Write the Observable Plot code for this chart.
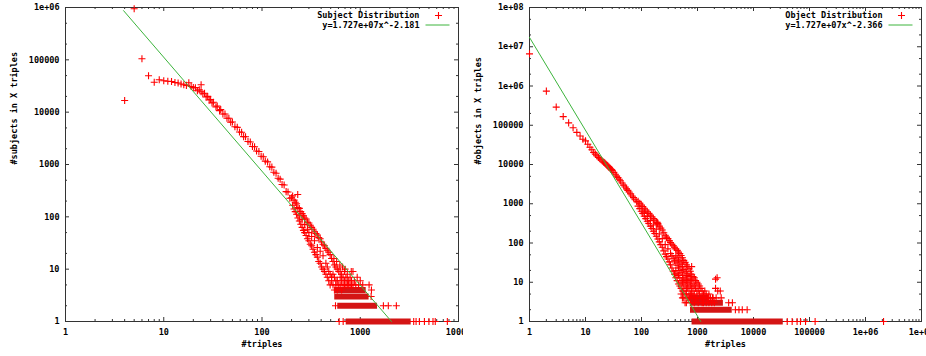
<!DOCTYPE html>
<html><head><meta charset="utf-8">
<script src="https://cdn.jsdelivr.net/npm/d3@7"></script>
<script src="https://cdn.jsdelivr.net/npm/@observablehq/plot@0.6"></script>
<style>
html,body{margin:0;padding:0;background:#fff;}
#wrap{display:flex;width:926px;height:356px;overflow:hidden;background:#fff;}
#wrap svg{flex:none;}
</style></head><body><div id="wrap"></div>
<script>
// ---------- Subject distribution (left) ----------
const subjectPoints = [
 [4,16700],[5,945000],[6,105000],[7,49600],[8,37400],[9,41600],[10,39800],[11,39000],[12,38500],[13,37000],[14,36000],[15,34500],[16,33500],[17,32500],[18,36500],[19,31000],[20,29500],
 [21,29400],[22,25600],[23,26800],[24,33400],[24,24500],[25,22500],[26,23000],[27,19500],[28,20000],[29,17100],[30,17500],[31,15000],[32,15500],[34,12600],[35,13100],[37,10700],[38,11200],[40,9250],[42,9200],[44,7650],[46,7650],[48,6430],[50,6490],[53,5250],[56,5130],[59,4180],[62,4140],[65,3410],[68,3400],[72,2750],[76,2690],[80,2210],[84,2180],[88,1810],[93,1770],[98,1440],[103,1410],[108,1160],[114,1120],[120,908],[126,891],[132,713],[139,682],[146,546],[153,525],[160,414],[168,406],[176,303],[184,299],[192,227],[200,232],[231,267],
 [205,251],[205,166],[212,209],[212,141],[218,190],[218,126],[225,178],[225,112],[232,151],[232,95],[240,145],[240,83],[240,105],[248,126],[248,72],[256,115],[256,63],[256,89],[264,105],[264,55],[272,95],[272,50],[272,71],[281,91],[281,44],[290,79],[290,38],[290,58],[300,76],[300,35],[300,50],[310,69],[310,30],[320,63],[320,28],[320,42],[331,58],[331,24],[342,52],[342,21],[342,35],[354,48],[354,19],[366,45],[366,17],[366,26],[378,40],[378,14],[391,38],[391,13],[391,22],[404,33],[404,11],[418,30],[418,10],[418,18],[432,28],[432,9],[447,25],[447,13],[447,8],[462,23],[462,7],[462,11],[478,21],[478,9],[478,6],[494,19],[494,8],[494,5],[511,16],[511,7],[511,6],[528,14],[528,8],[528,5],[540,16],[546,12],[546,7],[546,4],[565,11],[565,6],[565,5],[575,14],[584,10],[584,6],[584,4],[604,9],[604,5],[620,12],[625,9],[625,7],[625,5],[646,8],[646,6],[646,4],[660,11],[668,7],[668,5],[690,9],[690,6],[690,5],[700,10],[714,7],[714,5],[738,8],[738,6],[738,5],[763,6],[763,5],[789,7],[789,5],[810,9],[815,6],[815,5],[843,9],[843,5],[871,6],[900,5],[931,7],[962,5],[1000,6],[1060,5],[1230,5],
 [610,1],[670,1],[3500,1],[3700,1],[4000,1],[4500,1],[5000,1],[5500,1],[5800,1],[7700,1],[560,2],[1720,2],[1930,2],[2330,2],[1290,3],[1300,4]
];
// dense runs of points along one count value: [y, first x, last x]
const subjectRows = [[1,720,3300],[2,590,1500],[3,550,1230],[4,560,1150]];
const subjectFit = [[3.9,870000],[2080,1]];
const subjectXTicks = [1,10,100,1000,10000];
const subjectYTicks = [1,10,100,1000,10000,100000,1000000];

// ---------- Object distribution (right) ----------
const objectPoints = [
 [1,6600000],[2,740000],[3,290000],[4,166000],[5,115000],[6,86000],[7,66000],[8,53000],[9,44000],
 [10,40000],[11,32700],[12,27500],[13,23700],[14,20400],[15,18400],[16,16600],[17,15100],[18,14000],[19,13200],[20,12300],[21,11600],[22,11000],[23,10300],[24,9660],[25,9120],[26,8610],[27,8180],[28,7760],[29,7410],[30,7080],[32,6310],[34,5620],[36,5070],[38,4620],[40,4220],[42,3850],[45,3390],[48,2990],[51,2660],[54,2400],[57,2190],[60,2000],[64,1780],[68,1580],[72,1430],[77,1260],[82,1120],
 [87,1150],[87,871],[93,1035],[93,750],[99,933],[99,646],[105,851],[105,562],[112,767],[112,484],[112,610],[119,692],[119,417],[127,624],[127,359],[127,473],[135,569],[135,313],[144,513],[144,269],[144,372],[153,468],[153,234],[163,417],[163,200],[163,288],[173,380],[173,174],[184,339],[184,148],[184,224],[191,339],[196,302],[196,126],[195,316],[208,269],[208,107],[208,170],[221,240],[221,91],[235,214],[235,78],[235,129],[250,182],[250,63],[265,158],[265,52],[265,91],
 [280,141],[280,45],[296,129],[296,39],[296,71],[313,115],[313,33],[330,102],[330,28],[330,54],[349,93],[349,23],[349,47],[368,85],[368,19],[368,41],[389,78],[389,16],[389,35],[410,71],[410,13],[410,31],[410,20],[410,47],[433,65],[433,11],[433,27],[433,42],[433,17],[457,59],[457,9],[457,23],[457,37],[457,15],[483,54],[483,8],[483,20],[483,33],[483,13],[510,48],[510,7],[510,18],[510,29],[510,11],[510,5],[538,42],[538,6],[538,15],[538,25],[538,10],[538,4],
 [568,36],[568,21],[568,13],[568,9],[568,6],[568,4],[600,32],[600,19],[600,12],[600,8],[600,5],[600,3],[633,28],[633,17],[633,11],[633,7],[633,5],[633,3],[668,25],[668,15],[668,10],[668,7],[668,4],[705,22],[705,14],[705,9],[705,6],[705,4],[745,19],[745,12],[745,8],[745,5],[745,3],[786,25],[786,16],[786,11],[786,7],[786,5],[830,14],[830,9],[830,6],[830,4],[876,13],[876,8],[876,5],[876,3],[925,11],[925,7],[925,4],[976,10],[976,6],[976,4],[1030,9],[1030,6],[1030,3],[1090,8],[1090,5],[1150,7],[1150,4],[1210,6],[1210,4],[1210,3],[1280,5],[1280,3],[1350,6],[1350,4],[1430,5],[1430,3],[1510,4],[1600,5],[1600,3],[1700,4],[1800,3],[1900,4],[2000,3],[2100,12],[2100,7],[2240,13],[2300,6],[2550,6],[2650,4],[1580,4],[1850,4],[2150,4],
 [3600,3],[4200,3],[4750,2],[5500,2],[6300,2],[7700,2],[40000,1],[49000,1],[60000,1],[69000,1],[85000,1],[126000,1],[2100000,1]
];
const objectRows = [[1,800,34000],[2,750,4170],[3,750,2900],[4,700,1600]];
const objectFit = [[1,17270000],[1143,1]];
const objectXTicks = [1,10,100,1000,10000,100000,1000000,10000000];
const objectYTicks = [1,10,100,1000,10000,100000,1000000,10000000,100000000];

const xTitle = "#triples";
const subjectYTitle = "#subjects in X triples";
const objectYTitle = "#objects in X triples";
const subjectLegend = ["Subject Distribution", "y=1.727e+07x^-2.181"];
const objectLegend = ["Object Distribution", "y=1.727e+07x^-2.366"];

// ---------- drawing ----------
const RED = "#ff0000", ROW = "#d41515", GREEN = "#3cb43c", AX = "#333";
function fmt(v){ return v >= 1e6 ? "1e+" + String(Math.round(Math.log10(v))).padStart(2,"0") : String(v); }
function minors(majors, steps){ const out=[]; for (let i=0;i<majors.length-1;i++) for (const s of steps) out.push(majors[i]*s); return out; }
const legendLine = {draw(ctx){ ctx.moveTo(-12,0); ctx.lineTo(12,0); }};

function panel(cfg) {
  const W = 463, H = 356, mt = 7, mb = 35, ml = cfg.ml, mr = 5;
  const pw = W - ml - mr, ph = H - mt - mb;
  const pts = cfg.points.map(([x,y]) => ({x, y}));
  const rows = cfg.rows.map(([y,x1,x2]) => ({y, x1, x2}));
  const fit = cfg.fit.map(([x,y]) => ({x, y}));
  const xMin = minors(cfg.xTicks, [2,3,4,5,6,7,8,9]);
  const yMin = minors(cfg.yTicks, [2,5]);
  const M = 4, m = 2, R = 2.4;
  return Plot.plot({
    width: W, height: H, marginTop: mt, marginBottom: mb, marginLeft: ml, marginRight: mr,
    style: {fontFamily: "'DejaVu Sans Mono', monospace", fontSize: "8.5px", fontWeight: "bold", background: "#fff", color: "#000"},
    x: {type: "log", domain: [cfg.xTicks[0], cfg.xTicks[cfg.xTicks.length-1]]},
    y: {type: "log", domain: [cfg.yTicks[0], cfg.yTicks[cfg.yTicks.length-1]]},
    marks: [
      Plot.frame({stroke: AX}),
      // inward ticks on all four sides
      Plot.ruleX(cfg.xTicks, {x: d => d, insetTop: ph - M, stroke: AX}),
      Plot.ruleX(cfg.xTicks, {x: d => d, insetBottom: ph - M, stroke: AX}),
      Plot.ruleX(xMin, {x: d => d, insetTop: ph - m, stroke: AX}),
      Plot.ruleX(xMin, {x: d => d, insetBottom: ph - m, stroke: AX}),
      Plot.ruleY(cfg.yTicks, {y: d => d, insetRight: pw - M, stroke: AX}),
      Plot.ruleY(cfg.yTicks, {y: d => d, insetLeft: pw - M, stroke: AX}),
      Plot.ruleY(yMin, {y: d => d, insetRight: pw - m, stroke: AX}),
      Plot.ruleY(yMin, {y: d => d, insetLeft: pw - m, stroke: AX}),
      Plot.axisX({ticks: cfg.xTicks, tickFormat: fmt, tickSize: 0, tickPadding: 7, label: null}),
      Plot.axisY({ticks: cfg.yTicks, tickFormat: fmt, tickSize: 0, tickPadding: 6, label: null}),
      // data
      Plot.ruleY(rows, {y: "y", x1: "x1", x2: "x2", stroke: ROW, strokeWidth: 6}),
      Plot.dot(pts, {x: "x", y: "y", symbol: "plus", r: R, stroke: RED, strokeWidth: 1.1}),
      Plot.line(fit, {x: "x", y: "y", stroke: GREEN, strokeWidth: 1}),
      // titles
      Plot.text([xTitle], {text: d => d, frameAnchor: "bottom", dy: 23, lineAnchor: "middle", fill: "#000"}),
      Plot.text([cfg.yTitle], {text: d => d, frameAnchor: "left", dx: -51, rotate: -90, lineAnchor: "middle", fill: "#000"}),
      // legend
      Plot.text([cfg.legend[0]], {text: d => d, frameAnchor: "top-right", dx: -39, dy: 8, textAnchor: "end", lineAnchor: "middle", fill: "#000"}),
      Plot.text([cfg.legend[1]], {text: d => d, frameAnchor: "top-right", dx: -39, dy: 18, textAnchor: "end", lineAnchor: "middle", fill: "#000"}),
      Plot.dot([0], {frameAnchor: "top-right", dx: -20, dy: 8, symbol: "plus", r: R, stroke: RED, strokeWidth: 1.1}),
      Plot.dot([0], {frameAnchor: "top-right", dx: -21, dy: 17.5, symbol: legendLine, r: 1, fill: "none", stroke: GREEN, strokeWidth: 1})
    ]
  });
}

const wrap = document.getElementById("wrap");
wrap.append(panel({ml: 65, points: subjectPoints, rows: subjectRows, fit: subjectFit, xTicks: subjectXTicks, yTicks: subjectYTicks, yTitle: subjectYTitle, legend: subjectLegend}));
wrap.append(panel({ml: 66, points: objectPoints, rows: objectRows, fit: objectFit, xTicks: objectXTicks, yTicks: objectYTicks, yTitle: objectYTitle, legend: objectLegend}));
</script></body></html>
